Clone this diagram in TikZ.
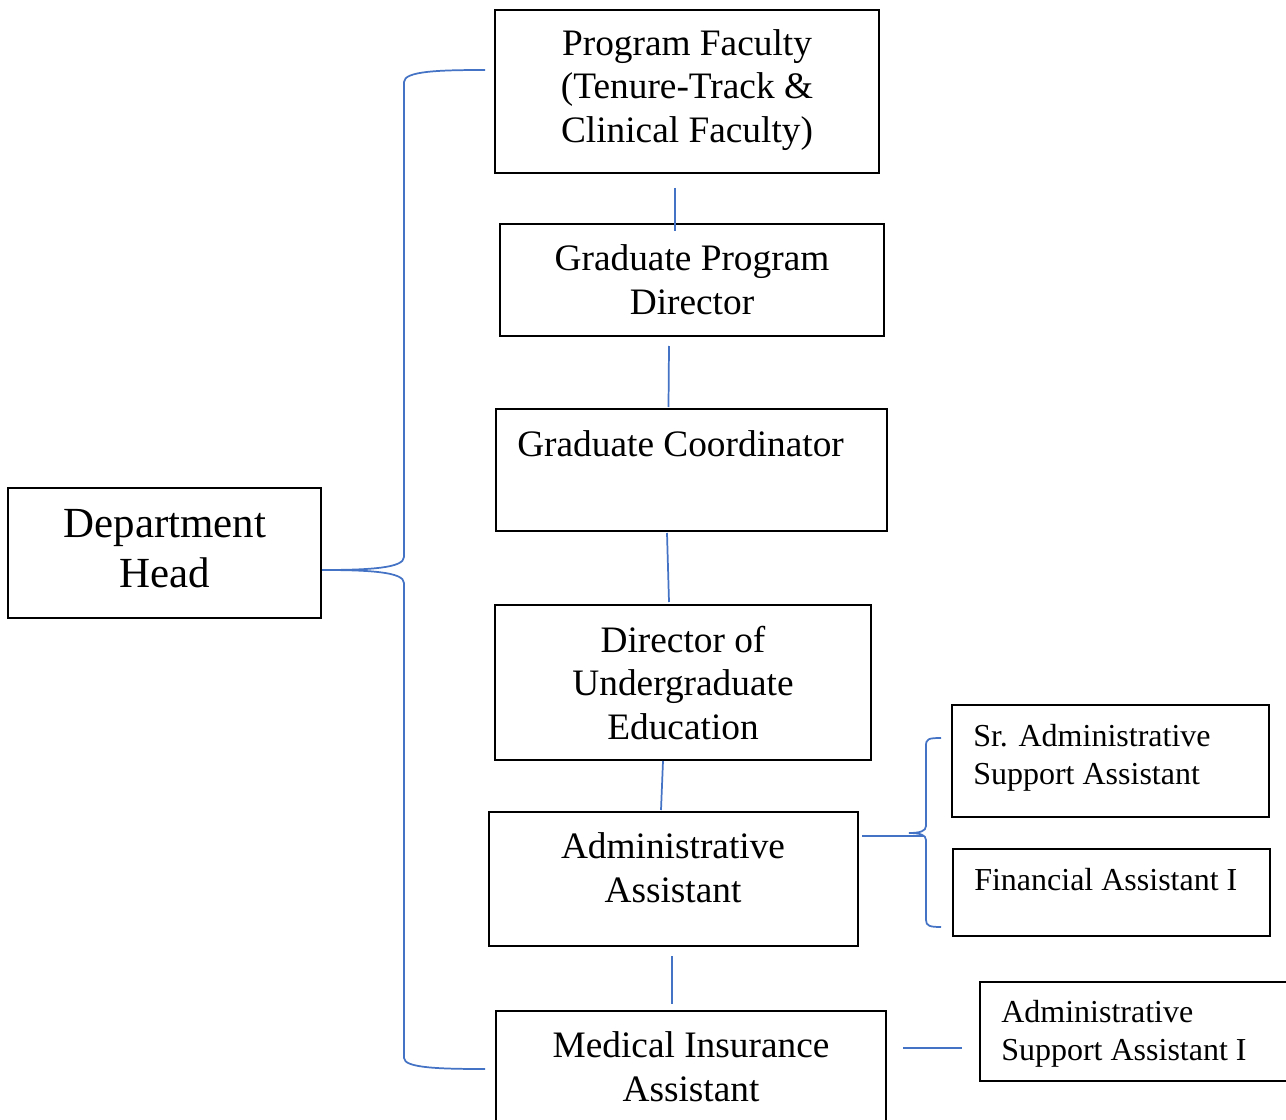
\documentclass[tikz,border=0pt]{standalone}
\usepackage{fontspec}
\setmainfont{Liberation Serif}
\usetikzlibrary{fit,calc}
\definecolor{lineblue}{HTML}{4472C4}
\tikzset{
  box/.style={draw=black, line width=1.5pt, inner sep=0pt},
  conn/.style={draw=lineblue, line width=1.3pt},
  big/.style={font=\fontsize{28}{32.8}\selectfont, align=center, inner sep=0pt},
  huge/.style={font=\fontsize{32.2}{37.5}\selectfont, align=center, inner sep=0pt},
  small/.style={font=\fontsize{24}{28.5}\selectfont, align=left, inner sep=0pt, anchor=west},
}
\begin{document}
\begin{tikzpicture}[x=0.75pt,y=-0.75pt]
\clip (0,0) rectangle (1286,1120);
\fill[white] (0,0) rectangle (1286,1120);
% boxes
\node[box, fit={(495,10) (879,173)}] (pf) {};
\node[box, fit={(500,224) (884,336)}] (gpd) {};
\node[box, fit={(496,409) (887,531)}] (gc) {};
\node[box, fit={(495,605) (871,760)}] (due) {};
\node[box, fit={(489,812) (858,946)}] (aa) {};
\node[box, fit={(496,1011) (886,1135)}] (mia) {};
\node[box, fit={(8,488) (321,618)}] (dh) {};
\node[box, fit={(952,705) (1269,817)}] (sasa) {};
\node[box, fit={(953,849) (1270,936)}] (fa) {};
\node[box, fit={(980,982) (1300,1081)}] (asa) {};
% texts
\node[big] (pft) at (687,90) {Program Faculty\\(Tenure-Track \&\\Clinical Faculty)};
\node[big] (gpdt) at (692,280) {Graduate Program\\Director};
\node[big, anchor=west] (gct) at (517,444) {Graduate Coordinator};
\node[big] (duet) at (683,683) {Director of\\Undergraduate\\Education};
\node[big] (aat) at (673,868) {Administrative\\Assistant};
\node[big] (miat) at (691,1067) {Medical Insurance\\Assistant};
\node[huge] (dht) at (165,549) {Department\\Head};
\node[small] (sasat) at (973,758) {Sr. Administrative\\Support Assistant};
\node[small] (fat) at (974,880) {Financial Assistant I};
\node[small] (asat) at (1001,1034) {Administrative\\Support Assistant I};
% vertical connectors
\draw[conn] ([xshift=-12*0.75pt, yshift=-14*0.75pt]pf.south) -- ([xshift=-17*0.75pt, yshift=-8*0.75pt]gpd.north);
\draw[conn] ([xshift=-23*0.75pt, yshift=-9*0.75pt]gpd.south) -- ([xshift=-23*0.75pt, yshift=1*0.75pt]gc.north);
\draw[conn] ([xshift=-24.5*0.75pt, yshift=-1*0.75pt]gc.south) -- ([xshift=-14*0.75pt, yshift=2*0.75pt]due.north);
\draw[conn] ([xshift=-20*0.75pt]due.south) -- ([xshift=-12.5*0.75pt, yshift=1*0.75pt]aa.north);
\draw[conn] ([xshift=-1.5*0.75pt, yshift=-9*0.75pt]aa.south) -- ([xshift=-19*0.75pt, yshift=6*0.75pt]mia.north);
\draw[conn] ([xshift=16*0.75pt]mia.east |- 0,1048) -- ([xshift=-17*0.75pt]asa.west |- 0,1048);
% right brace
\coordinate (rb) at (909,833);
\draw[conn] ([xshift=3*0.75pt]aa.east |- 0,836) -- (924,836);
\draw[conn] ([xshift=-10*0.75pt]sasa.west |- 0,738) .. controls (928,738) and (926,739) .. (926,746)
  -- (926,826) .. controls (926,831) and (920,833) .. (rb)
  .. controls (920,833) and (926,835) .. (926,840)
  -- (926,920) .. controls (926,926) and (930,927) .. ([xshift=-11*0.75pt]fa.west |- 0,927);
% left brace
\coordinate (lt) at (485,70);
\coordinate (lb) at (485,1069);
\draw[conn] (dh.east |- 0,570) .. controls (370,570) and (404,568) .. (404,557)
  -- (404,82) .. controls (404,71) and (440,70) .. (lt);
\draw[conn] (dh.east |- 0,570) .. controls (370,570) and (404,572) .. (404,583)
  -- (404,1058) .. controls (404,1068) and (440,1069) .. (lb);
\end{tikzpicture}
\end{document}
